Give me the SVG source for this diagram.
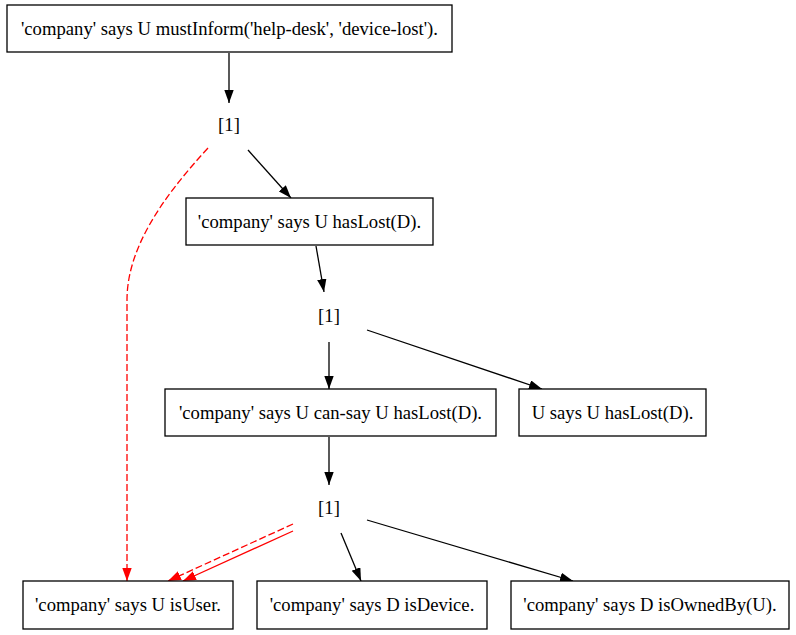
<svg xmlns="http://www.w3.org/2000/svg" width="796" height="635" viewBox="0 0 796 635">
<style>
.box{fill:#fff;stroke:#000;stroke-width:1.3}
text{font-family:"Liberation Serif","Times New Roman",serif;font-size:18.67px;fill:#000;text-anchor:middle}
.e{fill:none;stroke:#000;stroke-width:1.3}
.r{fill:none;stroke:#f00;stroke-width:1.3}
.d{stroke-dasharray:7,3}
</style>
<defs>
<marker id="ab" markerUnits="userSpaceOnUse" markerWidth="13" markerHeight="10" refX="13" refY="4.7" orient="auto"><path d="M0,0 L13,4.7 L0,9.4 z" fill="#000"/></marker>
<marker id="ar" markerUnits="userSpaceOnUse" markerWidth="13" markerHeight="10" refX="13" refY="4.7" orient="auto"><path d="M0,0 L13,4.7 L0,9.4 z" fill="#f00"/></marker>
</defs>
<rect width="796" height="635" fill="#fff"/>
<g id="connectors">
<path class="e" d="M229,53 L229,103" marker-end="url(#ab)"/>
<path class="e" d="M248,150 L291,198" marker-end="url(#ab)"/>
<path class="r d" d="M208,148 C160,200 127,250 127,300 L127,581" marker-end="url(#ar)"/>
<path class="e" d="M316,246 L324,292" marker-end="url(#ab)"/>
<path class="e" d="M329,342 L329,389" marker-end="url(#ab)"/>
<path class="e" d="M367,330 L542,389" marker-end="url(#ab)"/>
<path class="e" d="M329,437 L329,485" marker-end="url(#ab)"/>
<path class="r d" d="M293,524 L168,581" marker-end="url(#ar)"/>
<path class="r" d="M293,531 L183,581" marker-end="url(#ar)"/>
<path class="e" d="M341,533 L361,581" marker-end="url(#ab)"/>
<path class="e" d="M367,520 L573,581" marker-end="url(#ab)"/>
</g>
<g id="n1"><rect class="box" x="7" y="5" width="445" height="47"/><text x="229.5" y="35">'company' says U mustInform('help-desk', 'device-lost').</text></g>
<g id="j1"><text x="229" y="131">[1]</text></g>
<g id="n2"><rect class="box" x="186" y="198" width="247" height="47"/><text x="309.5" y="228">'company' says U hasLost(D).</text></g>
<g id="j2"><text x="329" y="322">[1]</text></g>
<g id="n3"><rect class="box" x="165" y="389" width="331" height="47"/><text x="330.5" y="419">'company' says U can-say U hasLost(D).</text></g>
<g id="n4"><rect class="box" x="519" y="389" width="187" height="47"/><text x="612.5" y="419">U says U hasLost(D).</text></g>
<g id="j3"><text x="329" y="514">[1]</text></g>
<g id="n5"><rect class="box" x="23" y="581" width="210" height="48"/><text x="128" y="611">'company' says U isUser.</text></g>
<g id="n6"><rect class="box" x="257" y="581" width="230" height="48"/><text x="372" y="611">'company' says D isDevice.</text></g>
<g id="n7"><rect class="box" x="511" y="581" width="278" height="48"/><text x="650" y="611">'company' says D isOwnedBy(U).</text></g>
</svg>
